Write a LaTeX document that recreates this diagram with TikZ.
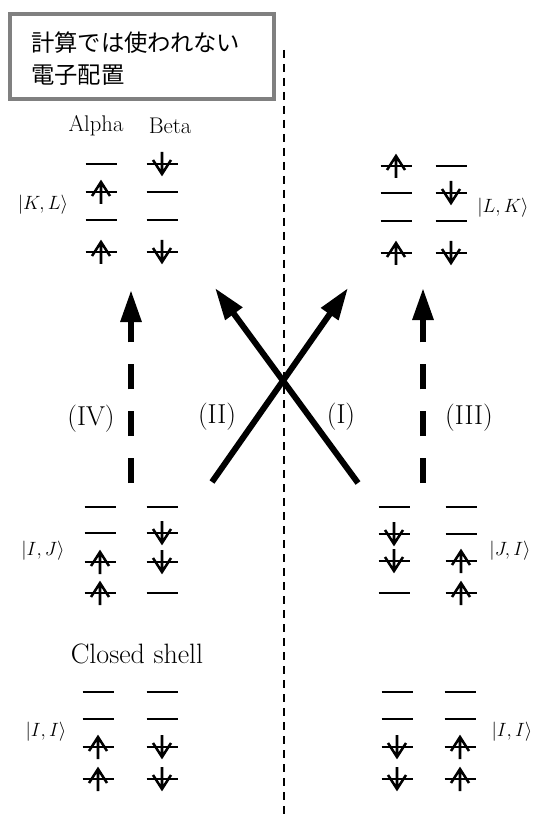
\documentclass[tikz,border=0pt]{standalone}
\usepackage{fontspec}
\newfontfamily\jpfont{Noto Sans CJK JP}
\usetikzlibrary{arrows.meta}
\definecolor{boxgray}{RGB}{128,128,128}
\tikzset{
  lvl/.style={line width=1.5pt},
  spin/.style={line width=1.9pt, line cap=butt, line join=miter},
  pics/orb/.style={code={
    \draw[lvl] (-15.5,0)--(15.5,0);
    \if u#1 \draw[spin] (0,12)--(0,-10) (-9,4)--(0,-10)--(9,4); \fi
    \if d#1 \draw[spin] (0,-12)--(0,10) (-9,-4)--(0,10)--(9,-4); \fi
  }},
  bigtip/.style={-{Triangle[length=24pt,width=15pt]}},
  bigdash/.style={bigtip, line width=4.5pt, dash pattern=on 18.75pt off 16.4pt},
  bigsolid/.style={bigtip, line width=4.5pt},
  divider/.style={line width=1.6pt, dash pattern=on 6pt off 4.5pt},
  titlebox/.style={draw=boxgray, line width=3pt, minimum width=198pt, minimum height=63.75pt, inner sep=0pt},
  roman/.style={inner sep=0pt, font=\fontsize{20.5}{24}\selectfont},
  colhead/.style={inner sep=0pt, font=\fontsize{17}{20}\selectfont},
  ket/.style={inner sep=0pt, font=\fontsize{15}{18}\selectfont},
}
\begin{document}
\begin{tikzpicture}[x=0.75pt,y=-0.75pt]
\useasboundingbox (0,0) rectangle (534,816);

% title box
\node[titlebox] (box) at (142,56.5) {};
\node[anchor=west, align=left, inner sep=0pt, font=\jpfont\fontsize{17.5}{24}\selectfont] (title) at (31,59) {計算では使われない\\電子配置};

% divider
\coordinate (dtop) at (284,50);
\coordinate (dbot) at (284,816);
\draw[divider] (dtop) -- (dbot);

% column heads
\node[colhead] (alpha) at (96,126) {Alpha};
\node[colhead] (beta) at (170,126) {Beta};

% |K,L>
\foreach \y/\k in {164/e,192/u,220/e,252/u} \pic at (101,\y) {orb=\k};
\foreach \y/\k in {164/d,192/e,220/e,252/d} \pic at (162,\y) {orb=\k};
\node[ket] (KL) at (43,205) {$\bigl|K,L\bigr\rangle$};

% |L,K>
\foreach \y/\k in {166/u,193/e,221/e,253/u} \pic at (396,\y) {orb=\k};
\foreach \y/\k in {166/e,193/d,221/e,253/d} \pic at (451,\y) {orb=\k};
\node[ket] (LK) at (503,208) {$\bigl|L,K\bigr\rangle$};

% |I,J>
\foreach \y/\k in {507/e,533/e,562/u,593/u} \pic at (100,\y) {orb=\k};
\foreach \y/\k in {507/e,533/d,562/d,593/e} \pic at (162,\y) {orb=\k};
\node[ket] (IJ) at (43,551) {$\bigl|I,J\bigr\rangle$};

% |J,I>
\foreach \y/\k in {507/e,534/d,561/d,593/e} \pic at (394,\y) {orb=\k};
\foreach \y/\k in {507/e,534/e,561/u,593/u} \pic at (461,\y) {orb=\k};
\node[ket] (JI) at (510,551) {$\bigl|J,I\bigr\rangle$};

% closed shell
\node[inner sep=0pt, font=\fontsize{21}{25}\selectfont] (closed) at (137,654) {Closed shell};
\foreach \y/\k in {692/e,719/e,747/u,779/u} \pic at (98,\y) {orb=\k};
\foreach \y/\k in {692/e,719/e,747/d,779/d} \pic at (162,\y) {orb=\k};
\node[ket] (IIl) at (46,732) {$\bigl|I,I\bigr\rangle$};
\foreach \y/\k in {692/e,719/e,747/d,779/d} \pic at (397,\y) {orb=\k};
\foreach \y/\k in {692/e,719/e,747/u,779/u} \pic at (460,\y) {orb=\k};
\node[ket] (IIr) at (512,732) {$\bigl|I,I\bigr\rangle$};

% big arrows
\coordinate (IVs) at (131,483);
\coordinate (IVe) at (131,290);
\draw[bigdash] (IVs) -- (IVe);
\coordinate (IIIs) at (423,483);
\coordinate (IIIe) at (423,288);
\draw[bigdash] (IIIs) -- (IIIe);
\coordinate (IIs) at (212,482);
\coordinate (IIe) at (348,288);
\draw[bigsolid] (IIs) -- (IIe);
\coordinate (Is) at (358,483);
\coordinate (Ie) at (215,288);
\draw[bigsolid] (Is) -- (Ie);

% arrow labels
\node[roman] (lIV) at (91,419) {(IV)};
\node[roman] (lII) at (217,417) {(II)};
\node[roman] (lI) at (341,417) {(I)};
\node[roman] (lIII) at (469,418) {(III)};
\end{tikzpicture}
\end{document}
